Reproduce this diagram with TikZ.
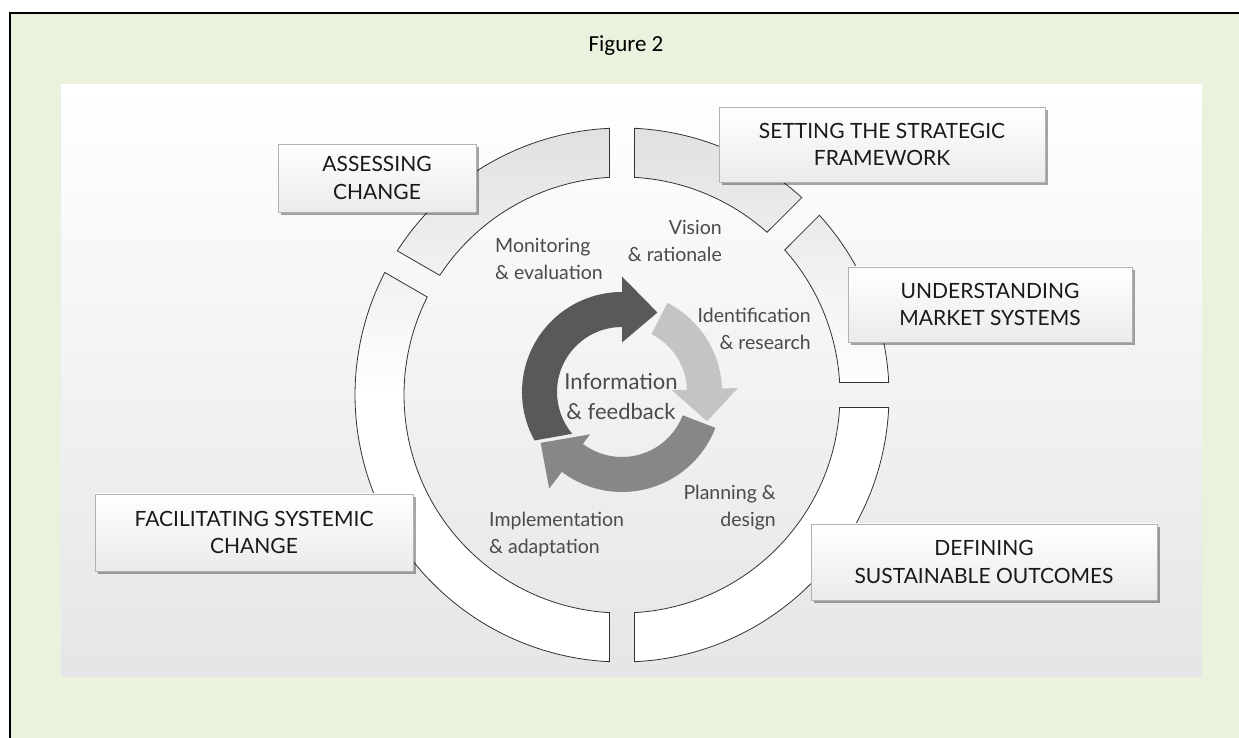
\documentclass[tikz,border=0pt]{standalone}
\usepackage{fontspec}
\setmainfont{Lato}
\newfontfamily\titlefont{Carlito}
\usepackage{tikz}
\usetikzlibrary{
    shadows
}

\definecolor{framegreen}{HTML}{EAF1DD}
\definecolor{cycdark}{HTML}{595959}
\definecolor{cyclight}{HTML}{C4C4C4}
\definecolor{cycmid}{HTML}{878787}
\definecolor{labelgray}{HTML}{4A4A4A}

\tikzset{
    stagebox/.style={draw=gray!60, line width=0.8pt, top color=white, bottom color=gray!16,
        drop shadow={shadow xshift=2.5pt, shadow yshift=-3pt, opacity=0.35, fill=black},
        align=center, inner sep=0pt, text=black!90,
        font=\fontsize{21}{27.5}\selectfont},
    phase/.style={inner sep=0pt, text=labelgray, font=\fontsize{19.5}{27}\selectfont},
    ringpart/.style={draw=black!80, line width=0.8pt}
}

\begin{document}
\begin{tikzpicture}[x=1pt, y=1pt]
                        \useasboundingbox (0,0) rectangle (1239,738);
                        \fill[white] (0,0) rectangle (1239,738);
                        \fill[framegreen] (10,0) rectangle (1239,725);
                        \draw[line width=2.5pt] (10,0) -- (10,725) -- (1239,725);
                        \node[font=\titlefont\fontsize{23}{23}\selectfont] (title) at (626,692) {Figure 2};
                        \shade[top color=white, bottom color=gray!20] (61,653) rectangle (1202,61);

                        % outer ring, five parts
                        \begin{scope}[shift={(622,343)}]
                        \shade[ringpart, top color=gray!24, bottom color=white, middle color=white]
                        (47.68:267) arc[start angle=47.68, end angle=87.32, radius=267]
                            -- (86.71:218) arc[start angle=86.71, end angle=48.29, radius=218] -- cycle
                        (92.68:267) arc[start angle=92.68, end angle=147.32, radius=267]
                            -- (146.71:218) arc[start angle=146.71, end angle=93.29, radius=218] -- cycle
                        (152.68:267) arc[start angle=152.68, end angle=267.32, radius=267]
                            -- (266.71:218) arc[start angle=266.71, end angle=153.29, radius=218] -- cycle
                        (272.68:267) arc[start angle=272.68, end angle=357.32, radius=267]
                            -- (356.71:218) arc[start angle=356.71, end angle=273.29, radius=218] -- cycle
                        (2.68:267) arc[start angle=2.68, end angle=42.32, radius=267]
                            -- (41.71:218) arc[start angle=41.71, end angle=3.29, radius=218] -- cycle;
                        \end{scope}

                        % inner cycle of arrows
                        \begin{scope}[shift={(622,346)}]
                        \fill[cycdark] (209:100) arc[start angle=209, end angle=90, radius=100]
                            -- (90:115.5) -- (66:87) -- (90:49.5) -- (90:65)
                            arc[start angle=90, end angle=220, radius=65] -- cycle;
                        \fill[cyclight] (63:100) arc[start angle=63, end angle=2, radius=100]
                            -- (2:116) -- (-19:90) -- (2:50) -- (2:65)
                            arc[start angle=2, end angle=63, radius=65] -- cycle;
                        \fill[cycmid] (-21:100) arc[start angle=-21, end angle=-127, radius=100]
                            -- (-127:121) -- (-148:96) -- (-127:53) -- (-127:65)
                            arc[start angle=-127, end angle=-21, radius=65] -- cycle;
                        \end{scope}

                        \node[phase, align=center, font=\fontsize{22}{30}\selectfont] (info) at (621,341) {Information\\\& feedback};
                        \node[phase, align=left, anchor=west] (monitor) at (495,479) {Monitoring\\\& evaluation};
                        \node[phase, align=right, anchor=east] (vision) at (722,497) {Vision\\\& rationale};
                        \node[phase, align=right, anchor=east] (ident) at (811,409.5) {Identification\\\& research};
                        \node[phase, align=right, anchor=east] (plan) at (776,230.5) {Planning \&\\design};
                        \node[phase, align=left, anchor=west] (implement) at (489,204) {Implementation\\\& adaptation};

                        \node[stagebox, minimum width=198, minimum height=68] (assess) at (377,560) {ASSESSING\\CHANGE};
                        \node[stagebox, minimum width=326, minimum height=75] (setting) at (882,593.5) {SETTING THE STRATEGIC\\FRAMEWORK};
                        \node[stagebox, minimum width=284, minimum height=75] (understand) at (990,433.5) {UNDERSTANDING\\MARKET SYSTEMS};
                        \node[stagebox, minimum width=346, minimum height=76] (defining) at (984,176) {DEFINING\\SUSTAINABLE OUTCOMES};
                        \node[stagebox, minimum width=318, minimum height=77] (facilitate) at (254,205.5) {FACILITATING SYSTEMIC\\CHANGE};
                    \end{tikzpicture}
\end{document}
